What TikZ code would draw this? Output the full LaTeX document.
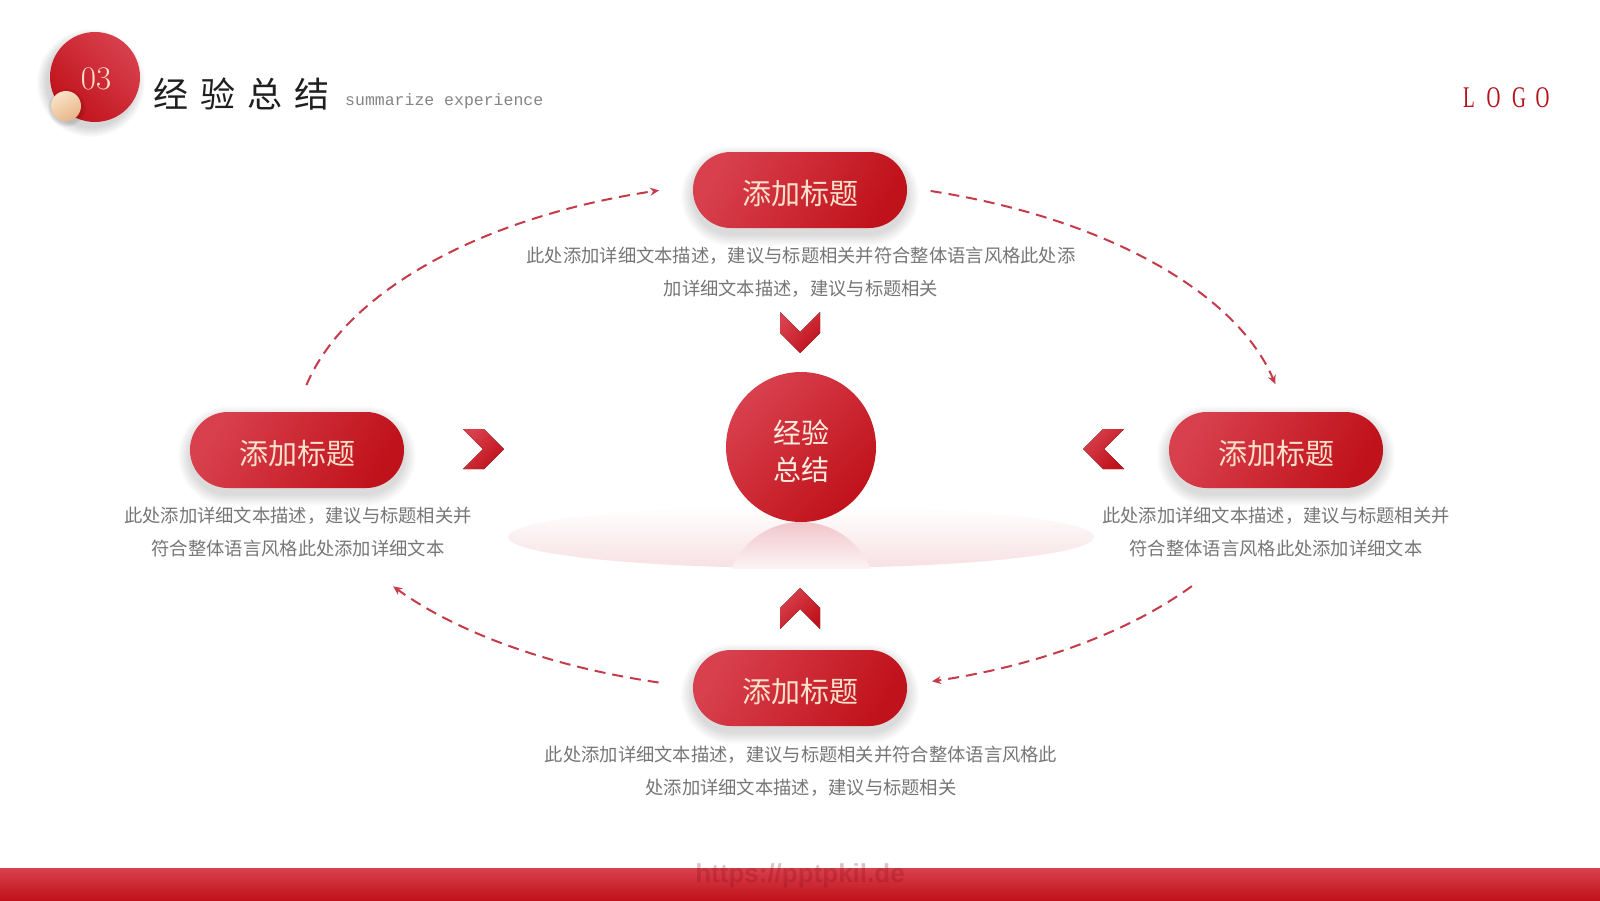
\documentclass[tikz,border=0pt]{standalone}
\usepackage{fontspec}
\setmainfont{Liberation Serif}
\newfontfamily\cjk{Noto Sans CJK SC}
\newfontfamily\monof{Liberation Mono}
\newfontfamily\wmfont{Liberation Sans}
\newfontfamily\lmr{Latin Modern Roman}
\usetikzlibrary{arrows.meta,shapes.geometric}
\definecolor{rdark}{HTML}{C0121B}
\definecolor{rlight}{HTML}{D8404D}
\definecolor{dashc}{HTML}{C63B4A}
\definecolor{cream}{HTML}{FBE0CC}
\definecolor{graytxt}{HTML}{767676}
\definecolor{logoc}{HTML}{B3121C}
\definecolor{beigeL}{HTML}{F9E3C8}
\definecolor{beigeD}{HTML}{E8B588}
\definecolor{pinkE}{HTML}{F7E0E3}
\definecolor{pinkR}{HTML}{F1C6CB}
\newcommand\pillshadow[2]{%
  \foreach \i in {1,...,12}{%
    \pgfmathsetmacro\rr{38+\i}%
    \fill[black,opacity=0.011,rounded corners=\rr pt] (#1-107-\i,#2-38-\i+6) rectangle (#1+107+\i,#2+38+\i+6);}}
\tikzset{
  pill/.style={rounded corners=37.9pt, minimum width=214pt, minimum height=76pt, inner sep=0pt,
    top color=rlight, bottom color=rdark, shading angle=60, text=cream,
    text height=29pt, text depth=1pt,
    font=\cjk\fontsize{29}{29}\selectfont},
  desc/.style={align=center, text=graytxt, font=\cjk\fontsize{18.3}{32.5}\selectfont, inner sep=0pt},
  dasharc/.style={draw=dashc, line width=2pt, dash pattern=on 11pt off 7pt, -{Stealth[length=9pt,width=8pt]}},
  chev/.style={top color=rlight, bottom color=rdark, shading angle=45},
  logoletter/.style={text=logoc, font=\fontsize{30}{30}\selectfont, inner sep=0pt}
}
\begin{document}
\begin{tikzpicture}[x=1pt,y=-1pt]
\useasboundingbox (0,0) rectangle (1600,900);
\fill[white] (0,0) rectangle (1600,900);

% ---------- header ----------
\foreach \i in {1,...,10} \fill[black,opacity=0.014] (91,83) circle[radius=44+\i];
\node[circle, minimum size=90pt, inner sep=0pt, top color=rlight, bottom color=rdark, shading angle=-45] (hcirc) at (95,77) {};
\foreach \i in {1,...,4} \fill[black,opacity=0.03] (67,108) circle[radius=15+\i];
\node[circle, minimum size=30pt, inner sep=0pt, top color=beigeL, bottom color=beigeD, shading angle=30] (bead) at (66,106) {};
\node[text=cream, font=\lmr\fontsize{33}{33}\selectfont, inner sep=0pt] (num) at (96,79) {03};
\node[anchor=west, inner sep=0pt, text=black!88, font=\cjk\fontsize{35}{35}\selectfont] (title) at (153,94) {经\hspace{12pt}验\hspace{12pt}总\hspace{12pt}结};
\node[anchor=west, inner sep=0pt, text=black!48, font=\monof\fontsize{16.5}{16.5}\selectfont] (sub) at (345,101) {summarize experience};
\node[logoletter] (lg1) at (1469,98) {\scalebox{0.64}[1]{L}};
\node[logoletter] (lg2) at (1493.5,98) {\scalebox{0.64}[1]{O}};
\node[logoletter] (lg3) at (1519,98) {\scalebox{0.64}[1]{G}};
\node[logoletter] (lg4) at (1542.5,98) {\scalebox{0.64}[1]{O}};

% ---------- centre ----------
\shade[top color=white, bottom color=pinkE] (801,537) ellipse[x radius=293, y radius=31];
\begin{scope}
  \clip (801,597) circle[radius=75];
  \shade[top color=pinkR, bottom color=pinkE!40] (726,522) rectangle (876,568);
\end{scope}
\node[circle, minimum size=150pt, inner sep=0pt, top color=rlight, bottom color=rdark, shading angle=45] (ctr) at (801,447) {};
\node[text=cream!60!white, align=center, inner sep=0pt, font=\cjk\fontsize{28}{37}\selectfont] (ctrtxt) at (801,451) {经验\\总结};

% ---------- chevrons ----------
\fill[chev] (780,312) -- (800,332) -- (820,312) -- (820,333) -- (800,353) -- (780,333) -- cycle;
\fill[chev] (780,629) -- (800,609) -- (820,629) -- (820,608) -- (800,588) -- (780,608) -- cycle;
\fill[chev] (463,429) -- (484,429) -- (504,449) -- (484,469) -- (463,469) -- (483,449) -- cycle;
\fill[chev] (1124,429) -- (1103,429) -- (1083,449) -- (1103,469) -- (1124,469) -- (1104,449) -- cycle;

% ---------- pills ----------
\pillshadow{800}{190}
\pillshadow{297}{450}
\pillshadow{1276}{450}
\pillshadow{800}{688}
\node[pill] (ptop) at (800,190) {添加标题};
\node[pill] (pleft) at (297,450) {添加标题};
\node[pill] (pright) at (1276,450) {添加标题};
\node[pill] (pbot) at (800,688) {添加标题};

% ---------- descriptions ----------
\node[desc] (dtop) at (801,272) {此处添加详细文本描述，建议与标题相关并符合整体语言风格此处添\\加详细文本描述，建议与标题相关};
\node[desc] (dleft) at (298,532) {此处添加详细文本描述，建议与标题相关并\\符合整体语言风格此处添加详细文本};
\node[desc] (dright) at (1276,532) {此处添加详细文本描述，建议与标题相关并\\符合整体语言风格此处添加详细文本};
\node[desc] (dbot) at (801,771) {此处添加详细文本描述，建议与标题相关并符合整体语言风格此\\处添加详细文本描述，建议与标题相关};

% ---------- dashed arcs ----------
\coordinate (eTL) at (800,440);
\coordinate (eTR) at (787,440);
\coordinate (eBR) at (800,440);
\coordinate (eBL) at (792,440);
\draw[dasharc] (eTL) ++(192.2:505 and 260) arc[start angle=192.2, end angle=253.8, x radius=505, y radius=260];
\draw[dasharc] (eTR) ++(286.7:500 and 260) arc[start angle=286.7, end angle=347.6, x radius=500, y radius=260];
\draw[dasharc] (eBR) ++(35.6:482 and 251) arc[start angle=35.6, end angle=74.1, x radius=482, y radius=251];
\draw[dasharc] (eBL) ++(105.8:490 and 252) arc[start angle=105.8, end angle=144.5, x radius=490, y radius=252];

% ---------- bottom bar ----------
\shade[top color=rlight, bottom color=rdark] (0,868) rectangle (1600,900);
\node[text=rdark!70!black, opacity=0.25, font=\wmfont\bfseries\fontsize{26}{26}\selectfont, inner sep=0pt] (wm) at (800,876) {https://pptpkil.de};
\end{tikzpicture}
\end{document}
